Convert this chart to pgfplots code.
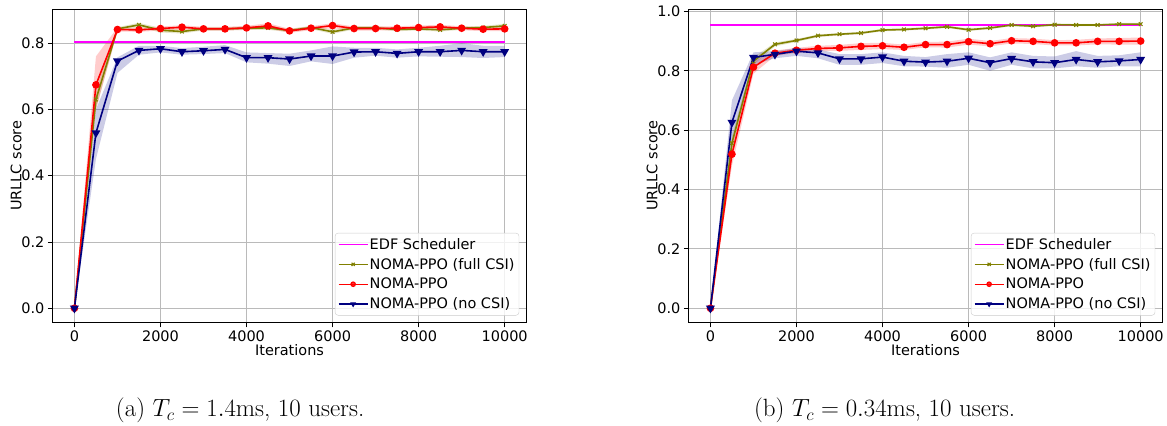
\documentclass[border=0pt]{standalone}
\usepackage{fontspec}
\usepackage{pgfplots}
\usepackage{pgfplotstable}
\pgfplotsset{compat=1.18}
\usepgfplotslibrary{fillbetween}
\newfontfamily\dejavu{DejaVu Sans}
\definecolor{olivec}{RGB}{128,128,0}
\definecolor{navyc}{RGB}{0,0,128}
\definecolor{magc}{RGB}{255,0,255}
\definecolor{redc}{RGB}{255,0,0}

\pgfplotstableread{
x f fl fh r rl rh n nl nh
0 0 0 0 0 0 0 0 0 0
500 0.630 0.600 0.660 0.674 0.600 0.760 0.529 0.450 0.600
1000 0.843 0.838 0.848 0.841 0.835 0.847 0.746 0.710 0.757
1500 0.855 0.848 0.861 0.840 0.834 0.846 0.778 0.765 0.792
2000 0.839 0.832 0.846 0.844 0.838 0.850 0.783 0.772 0.792
2500 0.835 0.829 0.842 0.848 0.842 0.854 0.774 0.765 0.785
3000 0.843 0.838 0.848 0.843 0.838 0.849 0.777 0.767 0.789
3500 0.843 0.838 0.848 0.843 0.838 0.849 0.781 0.770 0.794
4000 0.845 0.840 0.850 0.846 0.840 0.852 0.756 0.742 0.772
4500 0.846 0.840 0.852 0.852 0.844 0.860 0.756 0.738 0.770
5000 0.838 0.833 0.843 0.837 0.831 0.843 0.752 0.731 0.768
5500 0.847 0.842 0.852 0.845 0.839 0.851 0.761 0.745 0.778
6000 0.834 0.828 0.840 0.853 0.845 0.860 0.761 0.737 0.790
6500 0.846 0.841 0.851 0.844 0.838 0.850 0.773 0.756 0.786
7000 0.846 0.841 0.851 0.844 0.838 0.850 0.774 0.762 0.786
7500 0.841 0.836 0.846 0.845 0.839 0.851 0.769 0.756 0.781
8000 0.843 0.838 0.848 0.847 0.841 0.853 0.774 0.760 0.786
8500 0.840 0.835 0.845 0.849 0.843 0.855 0.774 0.759 0.792
9000 0.845 0.840 0.850 0.845 0.839 0.851 0.778 0.758 0.800
9500 0.847 0.842 0.852 0.842 0.836 0.848 0.774 0.755 0.792
10000 0.852 0.846 0.858 0.843 0.836 0.850 0.774 0.758 0.792
}\tabA

\pgfplotstableread{
x f fl fh r rl rh n nl nh
0 0 0 0 0 0 0 0 0 0
500 0.556 0.530 0.580 0.519 0.480 0.560 0.626 0.560 0.700
1000 0.832 0.820 0.845 0.812 0.790 0.830 0.845 0.820 0.862
1500 0.889 0.882 0.895 0.859 0.850 0.868 0.855 0.842 0.866
2000 0.902 0.897 0.907 0.869 0.860 0.877 0.866 0.850 0.876
2500 0.918 0.913 0.922 0.875 0.866 0.884 0.860 0.842 0.872
3000 0.923 0.919 0.927 0.877 0.867 0.887 0.840 0.820 0.856
3500 0.927 0.923 0.931 0.882 0.870 0.893 0.840 0.820 0.856
4000 0.937 0.933 0.941 0.884 0.873 0.894 0.846 0.826 0.862
4500 0.939 0.935 0.943 0.879 0.870 0.888 0.832 0.815 0.850
5000 0.943 0.939 0.947 0.888 0.879 0.897 0.829 0.814 0.846
5500 0.948 0.944 0.952 0.888 0.878 0.898 0.832 0.810 0.856
6000 0.938 0.934 0.942 0.898 0.888 0.908 0.842 0.820 0.862
6500 0.944 0.940 0.948 0.891 0.882 0.900 0.827 0.800 0.845
7000 0.954 0.950 0.958 0.901 0.892 0.910 0.841 0.820 0.862
7500 0.950 0.946 0.954 0.899 0.890 0.908 0.830 0.808 0.850
8000 0.955 0.951 0.959 0.894 0.885 0.903 0.827 0.808 0.848
8500 0.954 0.950 0.958 0.894 0.885 0.904 0.838 0.815 0.866
9000 0.954 0.950 0.958 0.899 0.889 0.909 0.830 0.810 0.850
9500 0.957 0.953 0.961 0.899 0.888 0.910 0.833 0.815 0.852
10000 0.957 0.953 0.961 0.900 0.888 0.912 0.838 0.815 0.862
}\tabB

\pgfplotstableread{
x y
0 0.804
10000 0.804
}\edfA
\pgfplotstableread{
x y
0 0.954
10000 0.954
}\edfB

\newcommand{\band}[4]{%
  \addplot[draw=none, forget plot, name path=L#2] table[x=x,y=#2]{#1};
  \addplot[draw=none, forget plot, name path=H#2] table[x=x,y=#3]{#1};
  \addplot[fill=#4, fill opacity=0.2, draw=none, forget plot] fill between[of=L#2 and H#2];
}

\pgfplotsset{
  myaxis/.style={
    width=474pt, height=314pt, scale only axis,
    xmin=-500, xmax=10500,
    xtick={0,2000,4000,6000,8000,10000},
    scaled ticks=false,
    tick align=outside, major tick length=5pt,
    xtick pos=left, ytick pos=left,
    tick style={black, line width=0.8pt},
    axis line style={black, line width=0.9pt},
    grid=major, grid style={color=black!27, line width=0.9pt},
    ticklabel style={font=\dejavu\fontsize{14.5}{17}\selectfont},
    /pgf/number format/assume math mode=true,
    xticklabel style={/pgf/number format/.cd, set thousands separator={}},
    yticklabel style={/pgf/number format/.cd, fixed, fixed zerofill, precision=1},
    label style={font=\dejavu\fontsize{14.5}{17}\selectfont},
    xlabel={Iterations}, ylabel={URLLC score},
    xlabel style={at={(axis description cs:0.5,-0.089)}, anchor=center},
    ylabel style={at={(axis description cs:-0.078,0.5)}, anchor=center},
    legend cell align=left,
    legend style={at={(1,0)}, anchor=south east, xshift=-7pt, yshift=7pt,
      draw=black!20, rounded corners=3pt, fill=white, fill opacity=0.8, text opacity=1,
      font=\dejavu\fontsize{14.5}{17}\selectfont,
      inner xsep=3pt, inner ysep=3.5pt, row sep=4.5pt,
      nodes={inner sep=1.5pt}},
    legend image code/.code={\draw[mark repeat=2, mark phase=2, line width=1.2pt, mark size=2.2pt, ##1] plot coordinates {(-4pt,0pt) (10.5pt,0pt) (25pt,0pt)};},
  },
  stylefull/.style={color=olivec, line width=1.6pt, mark=x, mark size=2.6pt, mark options={line width=1.1pt}},
  stylered/.style={color=redc, line width=1.6pt, mark=*, mark size=3pt},
  stylenavy/.style={color=navyc, line width=1.6pt, mark=triangle*, mark size=3.6pt, mark options={rotate=180}},
  styleedf/.style={draw=magc, color=magc, line width=1.7pt, mark=none},
}

\begin{document}
\begin{tikzpicture}
\path (0,0) rectangle (1167pt,423pt);

\begin{axis}[myaxis, at={(53pt,100pt)}, anchor=south west,
  ymin=-0.043, ymax=0.903, ytick={0,0.2,0.4,0.6,0.8}]
  \addplot[styleedf] table[x=x,y=y]{\edfA};
  \addlegendentry{EDF Scheduler}
  \band{\tabA}{fl}{fh}{olivec}
  \band{\tabA}{rl}{rh}{redc}
  \band{\tabA}{nl}{nh}{navyc}
  \addplot[stylefull] table[x=x,y=f]{\tabA};
  \addlegendentry{NOMA-PPO (full CSI)}
  \addplot[stylered] table[x=x,y=r]{\tabA};
  \addlegendentry{NOMA-PPO}
  \addplot[stylenavy] table[x=x,y=n]{\tabA};
  \addlegendentry{NOMA-PPO (no CSI)}
\end{axis}

\begin{axis}[myaxis, at={(690pt,100pt)}, anchor=south west,
  ymin=-0.048, ymax=1.008, ytick={0,0.2,0.4,0.6,0.8,1.0}]
  \addplot[styleedf] table[x=x,y=y]{\edfB};
  \addlegendentry{EDF Scheduler}
  \band{\tabB}{fl}{fh}{olivec}
  \band{\tabB}{rl}{rh}{redc}
  \band{\tabB}{nl}{nh}{navyc}
  \addplot[stylefull] table[x=x,y=f]{\tabB};
  \addlegendentry{NOMA-PPO (full CSI)}
  \addplot[stylered] table[x=x,y=r]{\tabB};
  \addlegendentry{NOMA-PPO}
  \addplot[stylenavy] table[x=x,y=n]{\tabB};
  \addlegendentry{NOMA-PPO (no CSI)}
\end{axis}

\node[anchor=base, font=\fontsize{25}{29}\selectfont] at (240.5pt,6pt) {(a) $T_c=1.4$ms, 10 users.};
\node[anchor=base, font=\fontsize{25}{29}\selectfont] at (886pt,6pt) {(b) $T_c=0.34$ms, 10 users.};
\end{tikzpicture}
\end{document}
